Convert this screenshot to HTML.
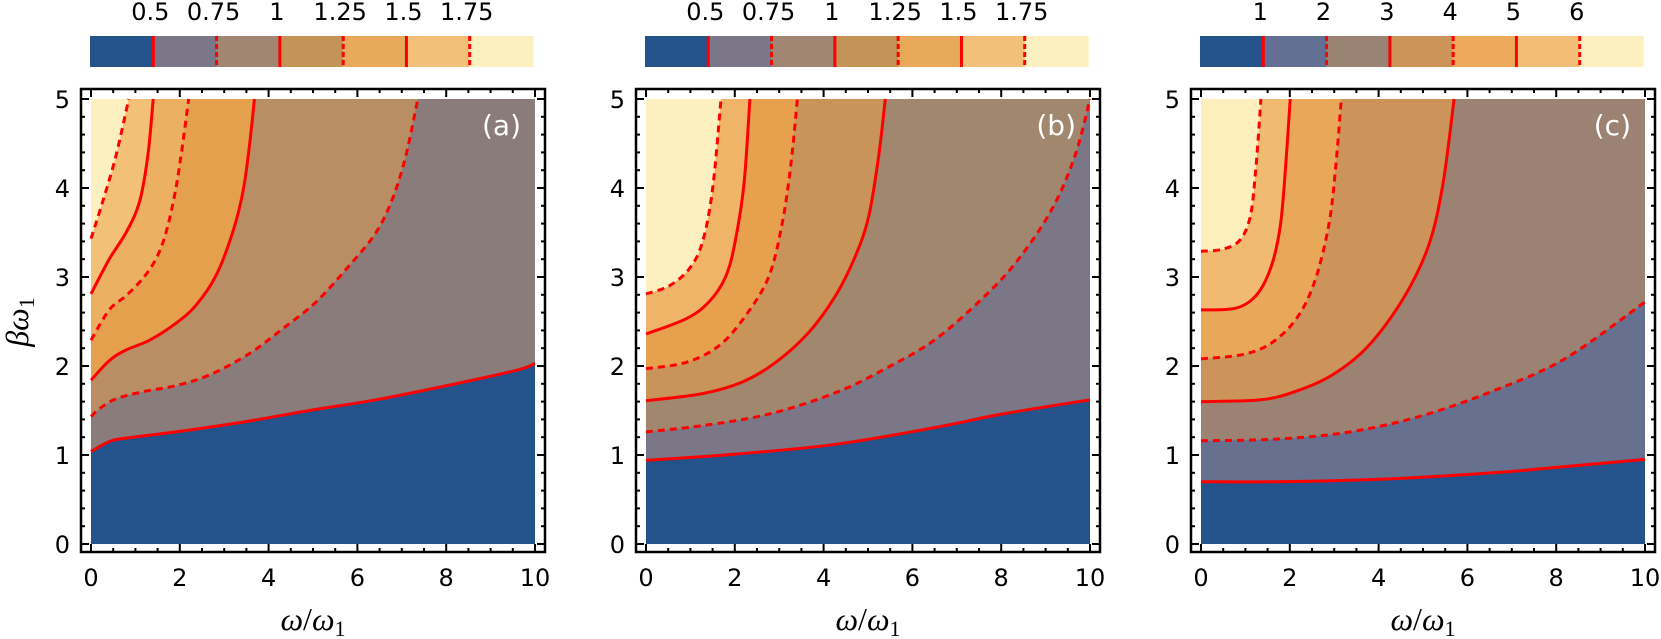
<!DOCTYPE html>
<html><head><meta charset="utf-8">
<style>
html,body{margin:0;padding:0;background:#fff;}
svg{display:block;font-family:"DejaVu Sans","Liberation Sans",sans-serif;}
</style></head>
<body>
<svg id="fig" width="1661" height="639" viewBox="0 0 1661 639" xmlns="http://www.w3.org/2000/svg"></svg>
<script>
// ---------- data ----------
const levelLabelsAB = ["0.5","0.75","1","1.25","1.5","1.75"];
const levelLabelsC = ["1","2","3","4","5","6"];
const barColorsAB = ["#23538a","#7b7789","#a08673","#c49358","#e9a95a","#f2c078","#fcf0c0"];
const barColorsC = ["#23538a","#646f94","#9a8372","#cd9459","#eca95a","#f2be76","#fcf0c0"];
const fillColorsA = ["#23538a","#8a7c7b","#b98e64","#e5a04e","#ecb062","#f3c078","#fdf0c0"];
const fillColorsB = ["#23538a","#7c7787","#a2876f","#c9945a","#e6a04e","#efb467","#fdf0c0"];
const fillColorsC = ["#23538a","#67718f","#9c8273","#cc945a","#e9a75a","#f0bb71","#fdefbd"];
const panelLabels = ["(a)","(b)","(c)"];
const xTicks = [0,2,4,6,8,10];
const yTicks = [0,1,2,3,4,5];

const contourXA = [
 [0,0.41,0.79,1.91,3.42,4.92,6.42,7.92,9.57,10],
 [0,0.19,0.56,1.16,1.91,2.67,3.57,4.32,5.07,5.82,6.42,6.79,7.09,7.36],
 [0,0.41,0.79,1.32,1.91,2.36,2.82,3.19,3.42,3.57,3.68],
 [0,0.41,0.79,1.16,1.46,1.69,1.91,2.06,2.20],
 [0,0.41,0.79,1.09,1.28,1.40],
 [0,0.26,0.56,0.85]
];
const contourYA = [
 [1.04,1.15,1.19,1.26,1.37,1.50,1.62,1.77,1.95,2.03],
 [1.43,1.52,1.63,1.71,1.78,1.90,2.14,2.42,2.72,3.13,3.50,3.88,4.36,5],
 [1.84,2.06,2.18,2.29,2.48,2.68,3.02,3.50,3.95,4.48,5],
 [2.29,2.63,2.79,2.98,3.20,3.50,3.99,4.48,5],
 [2.81,3.20,3.50,3.84,4.36,5],
 [3.43,3.84,4.36,5]
];
const contourXB = [
 [0,2.02,4.27,6.52,8.01,10],
 [0,1.27,2.77,4.27,5.39,6.52,7.64,8.39,9.14,9.66,10],
 [0,1.27,2.17,2.92,3.67,4.27,4.72,5.02,5.24,5.39],
 [0,0.90,1.65,2.25,2.77,3.07,3.26,3.41],
 [0,0.90,1.42,1.80,2.02,2.21,2.34],
 [0,0.52,0.97,1.27,1.50,1.69]
];
const contourYB = [
 [0.94,1.01,1.12,1.31,1.46,1.62],
 [1.26,1.33,1.46,1.70,1.97,2.30,2.79,3.20,3.76,4.36,5],
 [1.61,1.69,1.82,2.04,2.38,2.79,3.24,3.69,4.36,5],
 [1.97,2.04,2.23,2.57,3.01,3.61,4.25,5],
 [2.36,2.53,2.72,3.01,3.43,4.06,5],
 [2.81,2.90,3.09,3.39,3.99,5]
];
const contourXC = [
 [0,1.75,4.17,6.58,8.19,10],
 [0,1.75,3.36,4.97,6.58,8.19,10],
 [0,1.35,2.16,2.96,3.76,4.57,5.13,5.45,5.70],
 [0,0.95,1.59,2.16,2.56,2.88,3.04,3.16],
 [0,0.79,1.27,1.59,1.79,1.91,2.01],
 [0,0.47,0.87,1.11,1.23,1.35]
];
const contourYC = [
 [0.70,0.70,0.73,0.80,0.87,0.95],
 [1.16,1.18,1.26,1.44,1.72,2.08,2.72],
 [1.60,1.62,1.72,1.90,2.22,2.77,3.36,4.05,5],
 [2.08,2.13,2.26,2.54,2.95,3.59,4.27,5],
 [2.63,2.65,2.81,3.13,3.59,4.27,5],
 [3.29,3.31,3.41,3.68,4.19,5]
];

// ---------- drawing ----------
const NS="http://www.w3.org/2000/svg";
const svg=document.getElementById('fig');
function mk(tag,attrs,parent){const e=document.createElementNS(NS,tag);for(const k in attrs)e.setAttribute(k,attrs[k]);(parent||svg).appendChild(e);return e;}

const panels=[
 {ox:0, cx:contourXA, cy:contourYA, fills:fillColorsA, bar:barColorsAB, labels:levelLabelsAB, key:'a'},
 {ox:555, cx:contourXB, cy:contourYB, fills:fillColorsB, bar:barColorsAB, labels:levelLabelsAB, key:'b'},
 {ox:1110, cx:contourXC, cy:contourYC, fills:fillColorsC, bar:barColorsC, labels:levelLabelsC, key:'c'}
];

function smoothPath(pts){
  let d="M"+pts[0][0].toFixed(1)+","+pts[0][1].toFixed(1);
  for(let i=0;i<pts.length-1;i++){
    const p0=pts[Math.max(i-1,0)],p1=pts[i],p2=pts[i+1],p3=pts[Math.min(i+2,pts.length-1)];
    const c1=[p1[0]+(p2[0]-p0[0])/6,p1[1]+(p2[1]-p0[1])/6];
    const c2=[p2[0]-(p3[0]-p1[0])/6,p2[1]-(p3[1]-p1[1])/6];
    d+=" C"+c1[0].toFixed(1)+","+c1[1].toFixed(1)+" "+c2[0].toFixed(1)+","+c2[1].toFixed(1)+" "+p2[0].toFixed(1)+","+p2[1].toFixed(1);
  }
  return d;
}

panels.forEach((P,pi)=>{
  const x0=91+P.ox, x1=535+P.ox, y0=544, y1=99;
  const sx=v=>x0+(x1-x0)*v/10;
  const sy=v=>y0+(y1-y0)*v/5;
  const g=mk('g',{});
  
  

  // colorbar
  const bx=x0-1, bw=443, by=36, bh=31, seg=bw/7;
  const cb=mk('g',{},g);
  
  
  P.bar.forEach((c,i)=>{
    const r=mk('rect',{x:bx+i*seg,y:by,width:seg+0.6,height:bh,fill:c},cb);
    
    
  });
  P.labels.forEach((t,i)=>{
    const xx=bx+(i+1)*seg;
    const l=mk('line',{x1:xx,y1:by,x2:xx,y2:by+bh,stroke:'#ff0000','stroke-width':3,'stroke-dasharray':i%2?'5 3':'none'},cb);
    
    
    const tx=mk('text',{x:xx-3,y:20,'font-size':24,'text-anchor':'middle',fill:'#000'},cb);
    
    
    tx.textContent=t;
  });

  // plot fills
  const bg=mk('rect',{x:x0,y:y1,width:x1-x0,height:y0-y1,fill:P.fills[0]},g);
  
  
  P.cx.forEach((xs,li)=>{
    const pts=xs.map((x,k)=>[sx(x),sy(P.cy[li][k])]);
    let d=smoothPath(pts);
    const last=xs[xs.length-1];
    if(last>=10) d+=" L"+sx(10)+","+sy(5);
    d+=" L"+sx(0)+","+sy(5)+" Z";
    const f=mk('path',{d:d,fill:P.fills[li+1]},g);
    
    
  });
  P.cx.forEach((xs,li)=>{
    const pts=xs.map((x,k)=>[sx(x),sy(P.cy[li][k])]);
    const c=mk('path',{d:smoothPath(pts),fill:'none',stroke:'#ff0000','stroke-width':3,'stroke-dasharray':li%2?'7 5':'none'},g);
    
    
  });

  // frame
  const fx0=x0-10, fx1=x1+10, fy0=y1-10, fy1=y0+8;
  const fr=mk('rect',{x:fx0,y:fy0,width:fx1-fx0,height:fy1-fy0,fill:'none',stroke:'#000','stroke-width':2.5},g);
  
  
  for(let v=0;v<=10.001;v+=0.5){
    const major=Math.abs(v/2-Math.round(v/2))<1e-6, L=major?8:4, xx=sx(v);
    const t1=mk('line',{x1:xx,y1:fy1,x2:xx,y2:fy1-L,stroke:'#000','stroke-width':2},g);
    
    
    const t2=mk('line',{x1:xx,y1:fy0,x2:xx,y2:fy0+L,stroke:'#000','stroke-width':2},g);
    
    
  }
  for(let k=0;k<=25;k++){
    const v=k*0.2, major=k%5===0, L=major?8:4, yy=sy(v);
    const t1=mk('line',{x1:fx0,y1:yy,x2:fx0+L,y2:yy,stroke:'#000','stroke-width':2},g);
    
    
    const t2=mk('line',{x1:fx1,y1:yy,x2:fx1-L,y2:yy,stroke:'#000','stroke-width':2},g);
    
    
  }
  xTicks.forEach(v=>{
    const t=mk('text',{x:sx(v),y:586,'font-size':24,'text-anchor':'middle',fill:'#000'},g);
    
    
    t.textContent=v;
  });
  yTicks.forEach(v=>{
    const t=mk('text',{x:x0-21,y:sy(v)+9,'font-size':24,'text-anchor':'end',fill:'#000'},g);
    
    
    t.textContent=v;
  });
  const pl=mk('text',{x:x1-14,y:y1+36,'font-size':28,'text-anchor':'end',fill:'#ffffff'},g);
  
  
  pl.textContent=panelLabels[pi];
  const xt=mk('text',{x:(x0+x1)/2,y:630,'font-size':32,'text-anchor':'middle',fill:'#000','font-family':'"Liberation Serif","DejaVu Serif",serif'},g);
  
  
  xt.innerHTML='<tspan font-style="italic">ω</tspan>/<tspan font-style="italic">ω</tspan><tspan font-size="22" dy="6">1</tspan>';
});
const yt=mk('text',{x:0,y:0,'font-size':32,'text-anchor':'middle',fill:'#000','font-family':'"Liberation Serif","DejaVu Serif",serif',transform:'translate(28,322) rotate(-90)'});


yt.innerHTML='<tspan font-style="italic">βω</tspan><tspan font-size="22" dy="6">1</tspan>';
</script>
</body></html>
